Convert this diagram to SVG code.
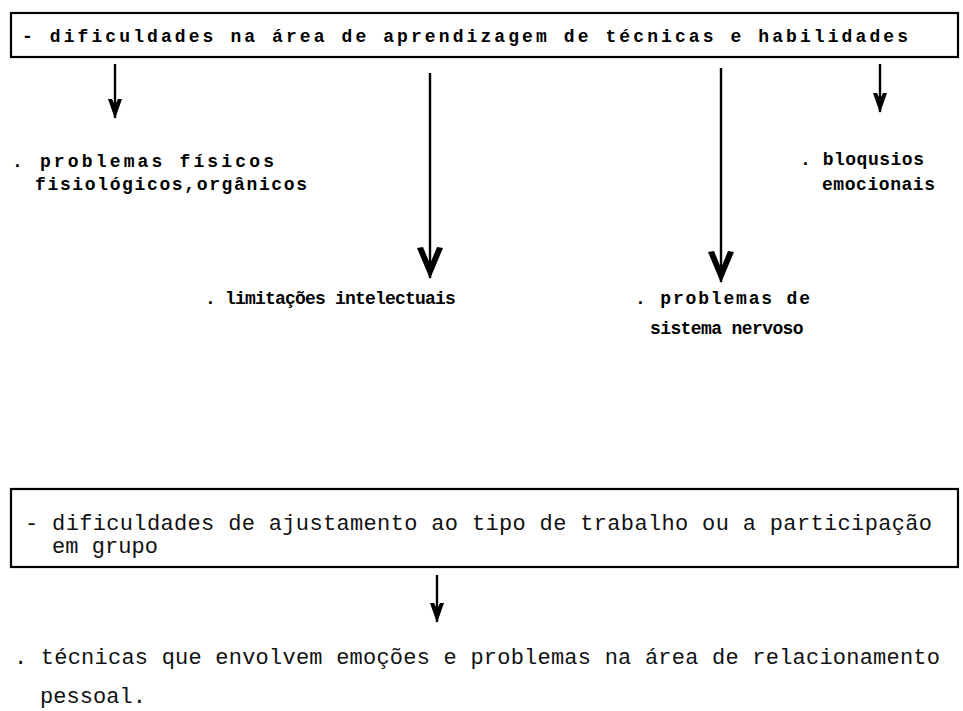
<svg xmlns="http://www.w3.org/2000/svg" width="963" height="711" viewBox="0 0 963 711">
<style>
.box{fill:#fff;stroke:#000;stroke-width:2.2}
.dm{font-family:"Liberation Mono","DejaVu Sans Mono",monospace;font-weight:bold;font-size:18px;fill:#000}
.tw{font-family:"Liberation Mono","DejaVu Sans Mono",monospace;font-size:22px;fill:#111}
.ln{stroke:#000;stroke-width:2.4;fill:none}
</style>
<defs>
<marker id="hs" markerUnits="userSpaceOnUse" viewBox="-22 -10 24 20" refX="0" refY="0" markerWidth="24" markerHeight="20" orient="auto">
<path d="M1,0 L-19,-7 L-19,-3 L-13,0 L-19,3 L-19,7 Z" fill="#000"/>
</marker>
<marker id="hl" markerUnits="userSpaceOnUse" viewBox="-34 -16 36 32" refX="0" refY="0" markerWidth="36" markerHeight="32" orient="auto">
<path d="M1,0 L-30,-13 L-31,-7 L-14,0 L-31,7 L-30,13 Z" fill="#000"/>
</marker>
</defs>
<g id="n1">
<rect class="box" x="11" y="13" width="947" height="44"/>
<text class="dm" x="22" y="42" textLength="886" lengthAdjust="spacing">- dificuldades na área de aprendizagem de técnicas e habilidades</text>
</g>
<g id="n2">
<text class="dm" x="12" y="167" textLength="262" lengthAdjust="spacing">. problemas físicos</text>
<text class="dm" x="35" y="190" textLength="272" lengthAdjust="spacing">fisiológicos,orgânicos</text>
</g>
<g id="n3">
<text class="dm" x="800" y="165" textLength="124" lengthAdjust="spacing">. bloqusios</text>
<text class="dm" x="822" y="190" textLength="113" lengthAdjust="spacing">emocionais</text>
</g>
<g id="n4">
<text class="dm" x="205" y="304" letter-spacing="-0.8">. limitações intelectuais</text>
</g>
<g id="n5">
<text class="dm" x="635" y="304" textLength="175" lengthAdjust="spacing">. problemas de</text>
<text class="dm" x="650" y="334" letter-spacing="-0.6">sistema nervoso</text>
</g>
<g id="n6">
<rect class="box" x="11" y="489" width="947" height="78"/>
<text class="tw" x="25" y="530" textLength="907" lengthAdjust="spacing">- dificuldades de ajustamento ao tipo de trabalho ou a participação</text>
<text class="tw" x="52" y="553" textLength="106" lengthAdjust="spacing">em grupo</text>
</g>
<g id="n7">
<text class="tw" x="14" y="664" textLength="926" lengthAdjust="spacing">. técnicas que envolvem emoções e problemas na área de relacionamento</text>
<text class="tw" x="40" y="703" textLength="106" lengthAdjust="spacing">pessoal.</text>
</g>
<g id="connectors">
<line class="ln" x1="115" y1="64" x2="115" y2="118" marker-end="url(#hs)"/>
<line class="ln" x1="430" y1="73" x2="430" y2="278" marker-end="url(#hl)"/>
<line class="ln" x1="721" y1="68" x2="721" y2="282" marker-end="url(#hl)"/>
<line class="ln" x1="880" y1="64" x2="880" y2="112" marker-end="url(#hs)"/>
<line class="ln" x1="437" y1="575" x2="437" y2="622" marker-end="url(#hs)"/>
</g>
</svg>
